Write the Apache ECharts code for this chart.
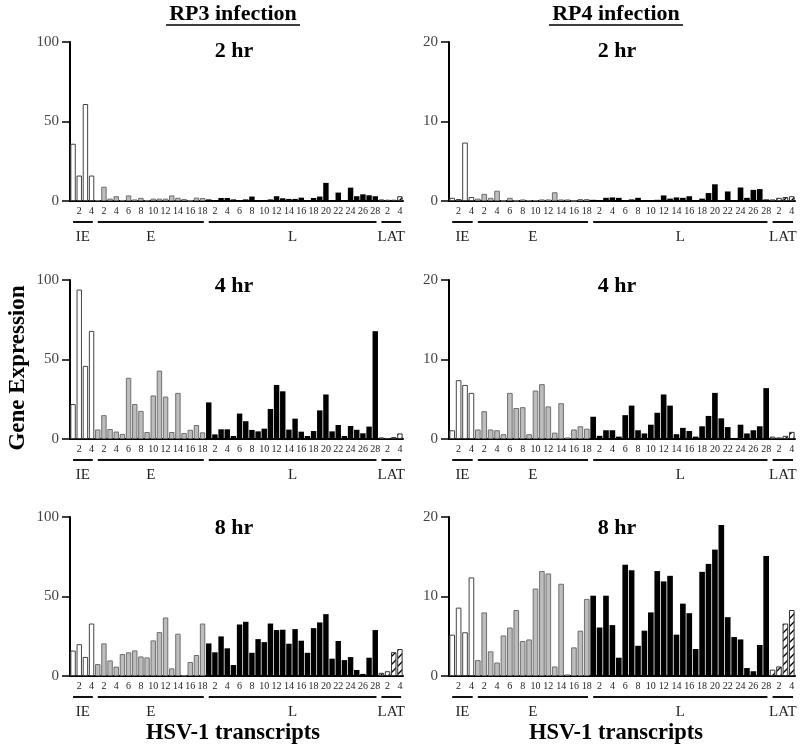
<!DOCTYPE html>
<html>
<head>
<meta charset="utf-8">
<script src="https://cdn.jsdelivr.net/npm/echarts@6/dist/echarts.min.js"></script>
<style>
html,body{margin:0;padding:0;background:#fff;}
#chart{width:800px;height:747px;}
</style>
</head>
<body>
<div id="chart"></div>
<script>
// ---- Data ----
const groupNames = ['IE', 'E', 'L', 'LAT'];
const groupSizes = [4, 18, 28, 4];

// RP3 infection
const rp3_2hr_IE = [36, 16, 61, 16];
const rp3_2hr_E = [0.5, 9, 1.5, 3, 0.5, 3.5, 1, 2, 0.5, 1.5, 1.5, 1.5, 3.5, 2, 1.3, 0.3, 2.1, 1.9];
const rp3_2hr_L = [1, 0.5, 1.9, 1.9, 1, 0.3, 1, 2.8, 0.2, 0.6, 1, 3, 1.7, 1.3, 1.3, 2.1, 0.3, 1.9, 2.8, 11.4, 0.3, 5.3, 0.3, 8.4, 3, 4.2, 3.6, 3];
const rp3_2hr_LAT = [1, 0.8, 0.8, 3];

const rp3_4hr_IE = [22, 94, 46, 68];
const rp3_4hr_E = [6, 15, 6.3, 4.7, 3.2, 38.5, 22, 17.7, 4.4, 27.4, 43, 26.7, 4.4, 29, 3.8, 5.8, 8.8, 4.2];
const rp3_4hr_L = [23, 2.9, 6.1, 6.1, 1.9, 16, 11.2, 5.7, 4.8, 6.5, 18.9, 34, 30, 5.9, 12.8, 4.6, 1.9, 5, 18, 28, 4.8, 8.8, 1.9, 8.2, 5.8, 3.6, 7.8, 67.8];
const rp3_4hr_LAT = [1, 0.5, 1.2, 3.5];

const rp3_8hr_IE = [16, 20, 12, 33];
const rp3_8hr_E = [7.5, 20.5, 9.8, 5.9, 13.8, 14.9, 16.1, 12.3, 11.7, 22.4, 27.6, 36.8, 4.8, 26.6, 0.4, 8.8, 13.2, 33];
const rp3_8hr_L = [20.5, 14.9, 24.9, 17.4, 6.9, 32.4, 34.1, 14.6, 23.2, 21.3, 33, 28.9, 29.1, 20.3, 29.5, 22.2, 14.6, 30.1, 33.7, 38.9, 10.9, 22, 10, 11.9, 3.8, 1.3, 11.5, 28.9];
const rp3_8hr_LAT = [2, 3, 15, 17];

// RP4 infection
const rp4_2hr_IE = [0.4, 0.25, 7.35, 0.5];
const rp4_2hr_E = [0.3, 0.9, 0.4, 1.3, 0.05, 0.4, 0.05, 0.2, 0.1, 0.1, 0.2, 0.2, 1.1, 0.2, 0.2, 0.02, 0.25, 0.25];
const rp4_2hr_L = [0.15, 0.1, 0.4, 0.45, 0.4, 0.02, 0.2, 0.4, 0.05, 0.02, 0.15, 0.7, 0.3, 0.45, 0.4, 0.6, 0.1, 0.3, 1.0, 2.1, 0.1, 1.2, 0.1, 1.7, 0.4, 1.4, 1.5, 0.2];
const rp4_2hr_LAT = [0.2, 0.4, 0.5, 0.6];

const rp4_4hr_IE = [1.1, 7.4, 6.8, 5.8];
const rp4_4hr_E = [1.2, 3.5, 1.2, 1.1, 0.6, 5.8, 3.9, 4.0, 0.6, 6.1, 6.9, 4.1, 0.8, 4.5, 0.2, 1.2, 1.6, 1.3];
const rp4_4hr_L = [2.8, 0.4, 1.1, 1.1, 0.3, 3.0, 4.2, 1.1, 0.7, 1.8, 3.3, 5.6, 4.2, 0.6, 1.4, 1.0, 0.3, 1.6, 2.9, 5.8, 2.6, 1.5, 0.1, 1.8, 0.7, 1.1, 1.6, 6.4];
const rp4_4hr_LAT = [0.3, 0.2, 0.4, 0.9];

const rp4_8hr_IE = [5.2, 8.6, 5.5, 12.4];
const rp4_8hr_E = [2.0, 8.0, 3.1, 1.7, 5.1, 6.1, 8.3, 4.4, 4.6, 11.0, 13.2, 12.9, 1.2, 11.6, 0.2, 3.6, 5.7, 9.7];
const rp4_8hr_L = [10.1, 6.1, 10.1, 6.4, 2.3, 14.0, 13.3, 3.8, 5.7, 8.0, 13.2, 11.9, 12.6, 5.2, 9.1, 7.9, 3.4, 13.1, 14.1, 15.9, 19.0, 7.4, 4.9, 4.6, 1.0, 0.6, 3.9, 15.1];
const rp4_8hr_LAT = [0.8, 1.2, 6.6, 8.3];

const panelTitles = ['2 hr', '4 hr', '8 hr'];
const columnTitles = ['RP3 infection', 'RP4 infection'];
const yMaxes = [100, 20];
const yIntervals = [50, 10];

const panels = [
  [rp3_2hr_IE, rp3_2hr_E, rp3_2hr_L, rp3_2hr_LAT],
  [rp4_2hr_IE, rp4_2hr_E, rp4_2hr_L, rp4_2hr_LAT],
  [rp3_4hr_IE, rp3_4hr_E, rp3_4hr_L, rp3_4hr_LAT],
  [rp4_4hr_IE, rp4_4hr_E, rp4_4hr_L, rp4_4hr_LAT],
  [rp3_8hr_IE, rp3_8hr_E, rp3_8hr_L, rp3_8hr_LAT],
  [rp4_8hr_IE, rp4_8hr_E, rp4_8hr_L, rp4_8hr_LAT]
];

// ---- Category & tick labels ----
const categories = [];
const tickLabels = [];
const groupRanges = [];
let idx = 0;
groupNames.forEach((g, gi) => {
  const start = idx;
  for (let i = 1; i <= groupSizes[gi]; i++) {
    categories.push(g + i);
    tickLabels.push(i % 2 === 0 ? String(i) : '');
    idx++;
  }
  groupRanges.push([start, idx - 1, gi, 0]);
});

// ---- Hatch pattern ----
const hatch = document.createElement('canvas');
hatch.width = 8; hatch.height = 8;
(function () {
  const c = hatch.getContext('2d');
  c.fillStyle = '#fff'; c.fillRect(0, 0, 8, 8);
  c.strokeStyle = '#000'; c.lineWidth = 1.3;
  c.beginPath();
  c.moveTo(0, 8); c.lineTo(8, 0);
  c.moveTo(-1, 1); c.lineTo(1, -1);
  c.moveTo(7, 9); c.lineTo(9, 7);
  c.stroke();
})();

const FONT = '"Liberation Serif", "Times New Roman", serif';
const rowTops = [42, 280, 517];
const colLefts = [70, 449];
const colWidths = [333, 346];
const gridH = 159;

const grids = [], xAxes = [], yAxes = [], series = [];
const groupStyles = [
  { color: '#ffffff', borderColor: '#444', borderWidth: 1 },
  { color: '#bdbdbd', borderColor: '#6f6f6f', borderWidth: 1 },
  { color: '#000000', borderColor: '#000', borderWidth: 0 },
  { color: { image: hatch, repeat: 'repeat' }, borderColor: '#333', borderWidth: 1 }
];

panels.forEach((panel, p) => {
  const row = Math.floor(p / 2), col = p % 2;
  grids.push({ left: colLefts[col], top: rowTops[row], width: colWidths[col], height: gridH, containLabel: false });
  xAxes.push({
    type: 'category', gridIndex: p, data: categories,
    axisLine: { lineStyle: { color: '#000', width: 2 } },
    axisTick: { show: false },
    axisLabel: {
      interval: 0, margin: 5, fontSize: 10, fontFamily: FONT, color: '#222',
      formatter: (v, i) => tickLabels[i]
    },
    splitLine: { show: false }
  });
  yAxes.push({
    type: 'value', gridIndex: p, min: 0, max: yMaxes[col], interval: yIntervals[col],
    axisLine: { show: true, lineStyle: { color: '#000', width: 2 } },
    axisTick: { show: true, length: 8, lineStyle: { color: '#000', width: 1.5 } },
    axisLabel: { fontSize: 15, fontFamily: FONT, color: '#444', margin: 11 },
    splitLine: { show: false }
  });
  let offset = 0;
  panel.forEach((vals, gi) => {
    const data = categories.map(() => '-');
    vals.forEach((v, k) => { data[offset + k] = v; });
    offset += groupSizes[gi];
    series.push({
      type: 'bar', name: groupNames[gi], xAxisIndex: p, yAxisIndex: p,
      stack: 'panel' + p, data: data, barCategoryGap: '12%',
      itemStyle: groupStyles[gi], silent: true, animation: false
    });
  });
  series.push({
    type: 'custom', xAxisIndex: p, yAxisIndex: p, silent: true, animation: false, clip: false,
    data: groupRanges, encode: { x: [0, 1], y: 3 },
    renderItem: function (params, api) {
      const s = api.value(0), e = api.value(1), gi = api.value(2);
      const p0 = api.coord([s, 0]), p1 = api.coord([e, 0]);
      const bw = api.size([1, 0])[0];
      const x0 = p0[0] - bw / 2 + bw * 0.5;
      const x1 = p1[0] + bw / 2 - bw * 0.3;
      const y = p0[1] + 21;
      return {
        type: 'group', children: [
          { type: 'line', shape: { x1: x0, y1: y, x2: x1, y2: y }, style: { stroke: '#111', lineWidth: 2 } },
          { type: 'text', style: { text: groupNames[gi], x: (x0 + x1) / 2, y: y + 15, align: 'center', verticalAlign: 'middle', font: '15px ' + FONT, fill: '#222' } }
        ]
      };
    }
  });
});

const titleCenters = [233, 616];
const panelTitleY = [51, 286, 528];
const graphics = [];
columnTitles.forEach((t, c) => {
  graphics.push({ type: 'text', x: titleCenters[c], y: 14, style: { text: t, font: 'bold 22px ' + FONT, fill: '#000', align: 'center', verticalAlign: 'middle' } });
  graphics.push({ type: 'line', shape: { x1: titleCenters[c] - 67, y1: 25, x2: titleCenters[c] + 67, y2: 25 }, style: { stroke: '#000', lineWidth: 1.5 } });
  graphics.push({ type: 'text', x: titleCenters[c], y: 733, style: { text: 'HSV-1 transcripts', font: 'bold 22.5px ' + FONT, fill: '#000', align: 'center', verticalAlign: 'middle' } });
  panelTitles.forEach((pt, r) => {
    graphics.push({ type: 'text', x: titleCenters[c] + 1, y: panelTitleY[r], style: { text: pt, font: 'bold 22px ' + FONT, fill: '#000', align: 'center', verticalAlign: 'middle' } });
  });
});
graphics.push({ type: 'text', x: 18, y: 368, rotation: Math.PI / 2, style: { text: 'Gene Expression', font: 'bold 23px ' + FONT, fill: '#000', align: 'center', verticalAlign: 'middle' } });

const chart = echarts.init(document.getElementById('chart'), null, { renderer: 'canvas' });
chart.setOption({
  animation: false,
  backgroundColor: '#fff',
  grid: grids, xAxis: xAxes, yAxis: yAxes, series: series,
  graphic: graphics
});
</script>
</body>
</html>
